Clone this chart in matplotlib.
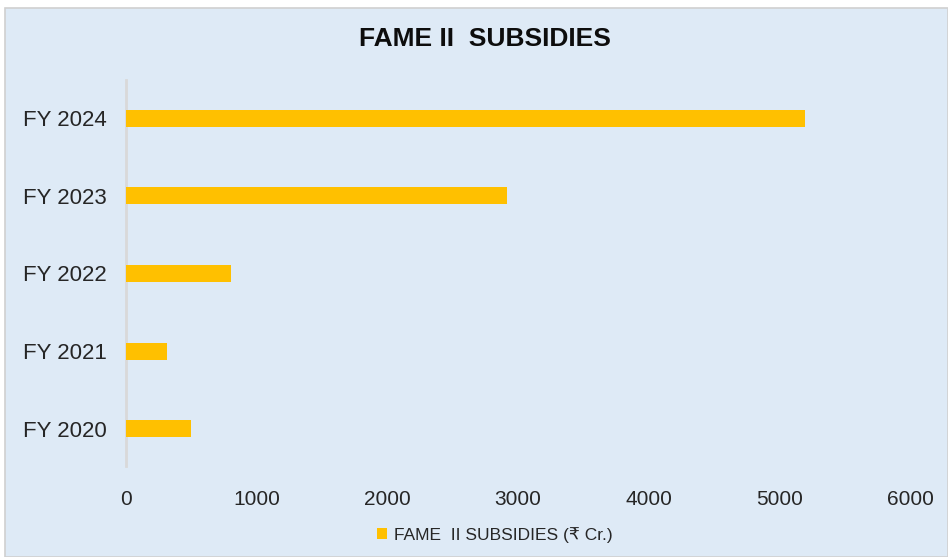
"""
FAME II subsidies by financial year, horizontal bar chart.
"""
import matplotlib
matplotlib.use("Agg")
import matplotlib.pyplot as plt
from matplotlib.patches import Rectangle

plt.rcParams["font.family"] = ["Liberation Sans", "DejaVu Sans"]

years = ["FY 2020", "FY 2021", "FY 2022", "FY 2023", "FY 2024"]
subsidies = [497, 314, 803, 2915, 5195]
x_ticks = [0, 1000, 2000, 3000, 4000, 5000, 6000]

BAR_COLOR = "#FFC000"
PANEL_COLOR = "#DEEAF6"

fig = plt.figure(figsize=(9.48, 5.57), dpi=100, facecolor="white")

# light blue chart panel with a thin grey border, kept behind the axes
panel = Rectangle((5 / 948, 0), 943 / 948, 1 - 8 / 557, transform=fig.transFigure,
                  facecolor=PANEL_COLOR, edgecolor="#D0D0D0", linewidth=1.2, zorder=-10)
fig.patches.append(panel)

ax = fig.add_axes([126 / 948, 1 - 466 / 557, (910 - 126) / 948, (466 - 80) / 557])
ax.patch.set_alpha(0)

ax.barh(range(len(years)), subsidies, height=0.22, color=BAR_COLOR,
        label="FAME  II SUBSIDIES (₹ Cr.)", zorder=3)

ax.set_xlim(0, 6000)
ax.set_ylim(-0.48, 4.49)
ax.set_yticks(range(len(years)))
ax.set_yticklabels(years)
ax.set_xticks(x_ticks)
ax.set_xticklabels([str(t) for t in x_ticks])
ax.tick_params(axis="both", length=0, colors="#262626")
ax.tick_params(axis="y", labelsize=16, pad=14)
ax.tick_params(axis="x", labelsize=15, pad=17)

for side in ["top", "right", "bottom"]:
    ax.spines[side].set_visible(False)
ax.spines["left"].set_color("#D9D9D9")
ax.spines["left"].set_linewidth(2)

fig.text(485 / 948, 1 - 39 / 557, "FAME II  SUBSIDIES", ha="center", va="center",
         fontsize=19, fontweight="bold", color="#0D0D0D")

leg = fig.legend(loc="center", bbox_to_anchor=(495 / 948, 1 - 535 / 557),
                 frameon=False, fontsize=12.5, handlelength=0.6, handleheight=0.6,
                 handletextpad=0.4)
for text in leg.get_texts():
    text.set_color("#262626")

fig.savefig("out.png", dpi=100, facecolor=fig.get_facecolor())
